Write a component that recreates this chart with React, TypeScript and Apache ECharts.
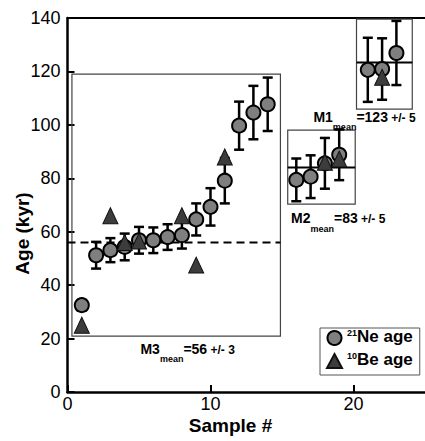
import React, { useEffect, useRef } from 'react';
import * as echarts from 'echarts';

// 21Ne ages (circles) with 1-sigma error
const neSample = [1, 2, 3, 4, 5, 6, 7, 8, 9, 10, 11, 12, 13, 14, 16, 17, 18, 19, 21, 22, 23];
const neAge = [32.5, 51.2, 53.1, 54.3, 56.8, 56.8, 58, 58.7, 64.6, 69.3, 79.1, 99.7, 104.6, 107.7, 79.4, 80.6, 85.6, 88.8, 120.6, 120.9, 126.9];
const neErr = [2, 5, 4.5, 5, 5, 4.8, 4.8, 5, 6, 7, 8.5, 9, 10, 10, 8, 8, 9.5, 9.5, 12, 11.5, 12];

// 10Be ages (triangles)
const beSample = [1, 3, 4, 5, 8, 9, 11, 18, 19, 22];
const beAge = [25, 66, 56, 56.5, 66, 47.5, 88, 86, 87.2, 117.8];

// Moraine groups
const groupNames = ['M3', 'M2', 'M1'];
const groupMean = [56, 83, 123];
const groupSd = [3, 5, 5];
const groupMeanLine = [56, 84, 123.3];
const boxXMin = [0.31, 15.4, 20.21];
const boxXMax = [14.89, 20.12, 24.11];
const boxYMin = [20.9, 70.3, 105.9];
const boxYMax = [119, 98.05, 139.6];
const lineXStart = [0, 15.4, 20.21];
const labelX = [8.4, 18.93, 20.77];
const labelY = [18.9, 67.6, 105.6];

const xTicks = [0, 10, 20];
const yTicks = [0, 20, 40, 60, 80, 100, 120, 140];

const FONT = '"Liberation Sans", Arial, Helvetica, sans-serif';

export default function App() {
  const ref = useRef<HTMLDivElement>(null);
  useEffect(() => {
    if (!ref.current) return;
    const chart = echarts.init(ref.current, null, { renderer: 'svg' });

    const errData = neSample.map((s, i) => [s, neAge[i], neErr[i]]);
    const boxData = groupNames.map((_, i) => [boxXMin[i], boxXMax[i], boxYMin[i], boxYMax[i], groupMeanLine[i], lineXStart[i], i]);
    const labelData = groupNames.map((_, i) => [labelX[i], labelY[i], i]);

    const axisCommon = {
      type: 'value' as const,
      splitLine: { show: false },
      axisLine: { show: true, onZero: false, lineStyle: { color: '#000', width: 2.5 } },
      axisTick: { show: true, inside: true, length: 7, lineStyle: { color: '#000', width: 2 } },
    };

    const option: any = {
      animation: false,
      backgroundColor: '#fff',
      grid: { left: 67.5, top: 18, width: 358.5, height: 374, containLabel: false },
      xAxis: [
        {
          ...axisCommon,
          min: 0,
          max: 25,
          interval: 10,
          axisLabel: {
            color: '#000', fontSize: 18, lineHeight: 14, fontFamily: FONT, margin: 5, showMaxLabel: false,
            formatter: (v: number) => (xTicks.includes(v) ? String(v) : ''),
          },
        },
        {
          type: 'value', position: 'top', min: 0, max: 25,
          axisLine: { show: true, onZero: false, lineStyle: { color: '#000', width: 2 } },
          axisTick: { show: false }, axisLabel: { show: false }, splitLine: { show: false },
        },
      ],
      yAxis: [
        {
          ...axisCommon,
          min: 0,
          max: 140,
          interval: 20,
          axisLabel: {
            color: '#000', fontSize: 18, fontFamily: FONT, margin: 7,
            formatter: (v: number) => (yTicks.includes(v) ? String(v) : ''),
          },
        },
      ],
      legend: {
        orient: 'vertical',
        left: 320,
        top: 328,
        padding: [0, 7, 6, 6],
        itemGap: 5,
        itemWidth: 15,
        itemHeight: 14,
        borderColor: '#555',
        borderWidth: 1,
        backgroundColor: '#fff',
        data: ['21Ne age', '10Be age'],
        formatter: (name: string) => {
          const sup = name.slice(0, 2);
          const rest = name.slice(2);
          return `{s|${sup}}{n|${rest}}`;
        },
        textStyle: {
          color: '#000',
          rich: {
            s: { fontSize: 9, fontWeight: 'bold', fontFamily: FONT, lineHeight: 13, verticalAlign: 'top', color: '#000' },
            n: { fontSize: 17, fontWeight: 'bold', fontFamily: FONT, lineHeight: 20, verticalAlign: 'top', color: '#000' },
          },
        },
      },
      graphic: [
        {
          type: 'text', x: 230.5, y: 425,
          style: { text: 'Sample #', font: `bold 19px ${FONT}`, fill: '#000', align: 'center', verticalAlign: 'middle' },
        },
        {
          type: 'text', x: 22, y: 233.5, rotation: Math.PI / 2,
          style: { text: 'Age (kyr)', font: `bold 19px ${FONT}`, fill: '#000', align: 'center', verticalAlign: 'middle' },
        },
      ],
      series: [
        {
          type: 'custom',
          name: 'boxes',
          z: 1,
          silent: true,
          data: boxData,
          renderItem: (params: any, api: any) => {
            const x0 = api.value(0), x1 = api.value(1), y0 = api.value(2), y1 = api.value(3);
            const ml = api.value(4), ls = api.value(5), idx = api.value(6);
            const p0 = api.coord([x0, y1]);
            const p1 = api.coord([x1, y0]);
            const l0 = api.coord([ls, ml]);
            const l1 = api.coord([x1, ml]);
            return {
              type: 'group',
              children: [
                {
                  type: 'rect',
                  shape: { x: p0[0], y: p0[1], width: p1[0] - p0[0], height: p1[1] - p0[1] },
                  style: { fill: 'none', stroke: '#444', lineWidth: 1.2 },
                },
                {
                  type: 'line',
                  shape: { x1: l0[0], y1: l0[1], x2: l1[0], y2: l1[1] },
                  style: { stroke: '#000', lineWidth: 2, lineDash: idx === 0 ? [8, 5] : null },
                },
              ],
            };
          },
        },
        {
          type: 'custom',
          name: 'errors',
          z: 2,
          silent: true,
          data: errData,
          renderItem: (params: any, api: any) => {
            const x = api.value(0), y = api.value(1), e = api.value(2);
            const top = api.coord([x, y + e]);
            const bot = api.coord([x, y - e]);
            const hw = 5;
            const st = { stroke: '#000', lineWidth: 2.5 };
            return {
              type: 'group',
              children: [
                { type: 'line', shape: { x1: top[0], y1: top[1], x2: bot[0], y2: bot[1] }, style: st },
                { type: 'line', shape: { x1: top[0] - hw, y1: top[1], x2: top[0] + hw, y2: top[1] }, style: st },
                { type: 'line', shape: { x1: bot[0] - hw, y1: bot[1], x2: bot[0] + hw, y2: bot[1] }, style: st },
              ],
            };
          },
        },
        {
          type: 'scatter',
          name: '21Ne age',
          z: 3,
          symbol: 'circle',
          symbolSize: 14,
          itemStyle: { color: '#7f7f7f', borderColor: '#000', borderWidth: 2, opacity: 1 },
          data: neSample.map((s, i) => [s, neAge[i]]),
        },
        {
          type: 'scatter',
          name: '10Be age',
          z: 4,
          symbol: 'triangle',
          symbolSize: [15, 16],
          itemStyle: { color: '#3c3c3c', borderColor: '#111', borderWidth: 1, opacity: 1 },
          data: beSample.map((s, i) => [s, beAge[i]]),
        },
        {
          type: 'custom',
          name: 'labels',
          z: 5,
          silent: true,
          data: labelData,
          renderItem: (params: any, api: any) => {
            const i = api.value(2);
            const p = api.coord([api.value(0), api.value(1)]);
            return {
              type: 'text',
              x: p[0],
              y: p[1],
              style: {
                text: `{a|${groupNames[i]}}{b|mean}{a|=${groupMean[i]}}{c| +/- ${groupSd[i]}}`,
                align: 'center',
                verticalAlign: 'top',
                fill: '#000',
                rich: {
                  a: { fontSize: 14, fontWeight: 'bold', fontFamily: FONT, lineHeight: 14, verticalAlign: 'top', fill: '#000' },
                  b: { fontSize: 9, fontWeight: 'bold', fontFamily: FONT, lineHeight: 22, verticalAlign: 'bottom', fill: '#000' },
                  c: { fontSize: 12, fontWeight: 'bold', fontFamily: FONT, lineHeight: 14, verticalAlign: 'top', padding: [2, 0, 0, 0], fill: '#000' },
                },
              },
            };
          },
        },
      ],
    };
    chart.setOption(option);
    return () => chart.dispose();
  }, []);

  return <div ref={ref} style={{ position: 'fixed', left: 0, top: 0, width: 425, height: 441 }} />;
}
